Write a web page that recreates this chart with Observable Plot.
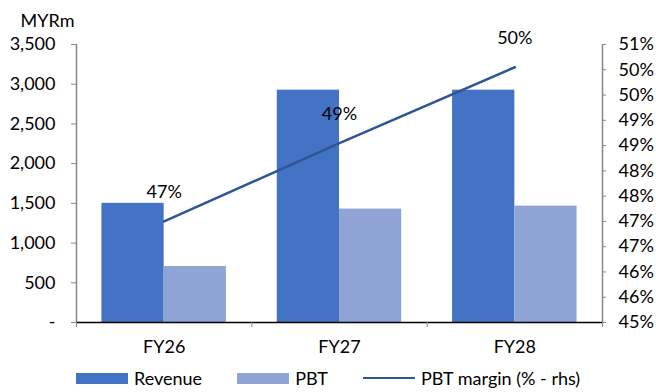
<!DOCTYPE html>
<html>
<head>
<meta charset="utf-8">
<script src="https://cdn.jsdelivr.net/npm/d3@7"></script>
<script src="https://cdn.jsdelivr.net/npm/@observablehq/plot@0.6"></script>
<style>
  html, body { margin: 0; padding: 0; background: #fff; }
  body { width: 656px; height: 392px; overflow: hidden; font-family: Lato, sans-serif; }
  #chart svg { display: block; }
  .legend { display: flex; align-items: center; height: 32px; padding-left: 76px; font-size: 18px; color: #000; }
  .legend .item { display: flex; align-items: center; margin-right: 35px; }
  .legend .sw { width: 52px; height: 11px; margin-right: 6px; }
  .legend .ln { width: 52px; height: 2.5px; margin-right: 6px; }
</style>
</head>
<body>
<div id="chart"></div>
<div class="legend">
  <div class="item"><div class="sw" style="background:#4472C4"></div><span>Revenue</span></div>
  <div class="item"><div class="sw" style="background:#8FA4D4"></div><span>PBT</span></div>
  <div class="item"><div class="ln" style="background:#2F5597"></div><span>PBT margin (% - rhs)</span></div>
</div>
<script>
// Fiscal years and series (MYR millions; margin in %)
const categories = ["FY26", "FY27", "FY28"];
const revenue = [1500, 2925, 2925];
const pbt = [705, 1428, 1465];
const pbtMargin = [47.0, 48.55, 50.05];

// Axis ticks: left in MYRm, right in %
const leftTicks = [0, 500, 1000, 1500, 2000, 2500, 3000, 3500];
const rightTicks = [45, 45.5, 46, 46.5, 47, 47.5, 48, 48.5, 49, 49.5, 50, 50.5];

const yMax = 3500;
const rMin = 45, rMax = 50.5;
// Map the right-hand (%) scale onto the left-hand value scale
const toLeft = v => (v - rMin) / (rMax - rMin) * yMax;
const fromLeft = v => rMin + v / yMax * (rMax - rMin);

const rows = categories.map((c, i) => ({i, c, revenue: revenue[i], pbt: pbt[i], margin: pbtMargin[i]}));
const bw = 0.355; // bar width as a fraction of a category slot

const axisGrey = "#868686";

const chart = Plot.plot({
  width: 656,
  height: 362,
  marginLeft: 76,
  marginRight: 54,
  marginTop: 44,
  marginBottom: 40,
  style: {fontFamily: "Lato, sans-serif", fontSize: "18px", color: "#000", background: "#fff"},
  x: {type: "linear", domain: [-0.5, categories.length - 0.5]},
  y: {domain: [0, yMax]},
  marks: [
    Plot.rectY(rows, {x1: d => d.i - bw, x2: d => d.i, y1: 0, y2: "revenue", fill: "#4472C4"}),
    Plot.rectY(rows, {x1: d => d.i, x2: d => d.i + bw, y1: 0, y2: "pbt", fill: "#8FA4D4"}),
    // axis lines
    Plot.ruleX([-0.5], {stroke: axisGrey, strokeWidth: 1.5}),
    Plot.ruleX([categories.length - 0.5], {stroke: axisGrey, strokeWidth: 1.5}),
    Plot.ruleY([0], {stroke: "#000", strokeWidth: 1.5, dx: 0}),
    // left axis
    Plot.axisY({
      ticks: leftTicks,
      tickFormat: v => v === 0 ? "-" : d3.format(",")(v),
      tickSize: 5,
      tickPadding: 16,
      stroke: axisGrey,
      label: null
    }),
    // right axis (%)
    Plot.axisY({
      anchor: "right",
      ticks: rightTicks.map(toLeft),
      tickFormat: v => Math.round(Math.round(fromLeft(v) * 1000) / 1000) + "%",
      tickSize: 3,
      tickPadding: 13,
      stroke: axisGrey,
      label: null
    }),
    // category boundary ticks
    Plot.axisX({
      ticks: d3.range(categories.length + 1).map(k => k - 0.5),
      tickFormat: () => "",
      tickSize: 5,
      stroke: axisGrey,
      label: null
    }),
    // category labels
    Plot.axisX({
      ticks: d3.range(categories.length),
      tickFormat: i => categories[i],
      tickSize: 0,
      tickPadding: 18,
      label: null
    }),
    // PBT margin line and labels
    Plot.line(rows, {x: "i", y: d => toLeft(d.margin), stroke: "#2F5597", strokeWidth: 2.5}),
    Plot.text(rows, {x: "i", y: d => toLeft(d.margin), text: d => Math.round(d.margin) + "%", dy: -29, fill: "#000"}),
    // unit label
    Plot.text(["MYRm"], {frameAnchor: "top-left", textAnchor: "end", lineAnchor: "bottom", dx: -2, dy: -18, fill: "#000"})
  ]
});

document.getElementById("chart").append(chart);
</script>
</body>
</html>
